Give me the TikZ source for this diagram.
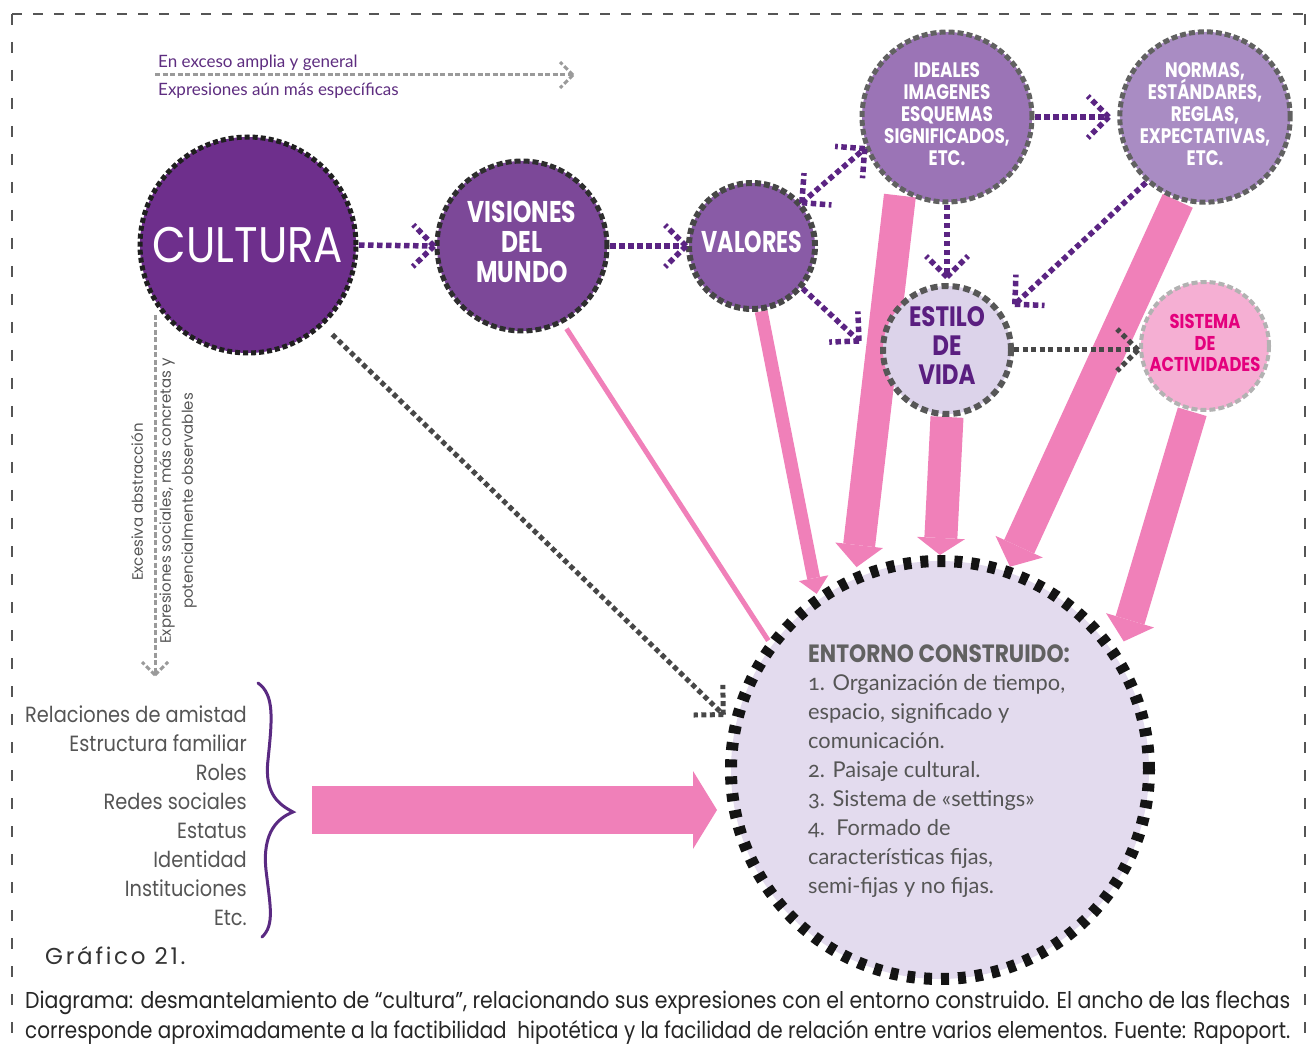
\documentclass[tikz,border=0pt]{standalone}
\usepackage{fontspec}
\usepackage{graphicx}
\usetikzlibrary{arrows.meta,decorations.markings,calc}
\setmainfont{Lato}
\newfontfamily\geo{Poppins}
\newfontfamily\geosp{Poppins}[LetterSpace=12]
\newfontfamily\lato{Lato}[Numbers=OldStyle]

\definecolor{cultfill}{HTML}{6E2F8C}
\definecolor{visfill}{HTML}{7C4898}
\definecolor{valfill}{HTML}{895BA6}
\definecolor{idefill}{HTML}{9B74B6}
\definecolor{norfill}{HTML}{A98CC3}
\definecolor{estfill}{HTML}{DCD3EA}
\definecolor{sisfill}{HTML}{F5AFD3}
\definecolor{entfill}{HTML}{E3DBEE}
\definecolor{pinkflow}{HTML}{F080B9}
\definecolor{dotpurple}{HTML}{5B2483}
\definecolor{dotgray}{HTML}{474747}
\definecolor{lightgray}{HTML}{9A9A9A}
\definecolor{textgray}{HTML}{555555}
\definecolor{legendpurple}{HTML}{5E2D80}
\definecolor{estpurple}{HTML}{5A1E80}
\definecolor{magentatext}{HTML}{E4007D}
\definecolor{bracepurple}{HTML}{5A2A82}
\definecolor{framegray}{HTML}{555555}

% horizontally condensed block of centred / aligned lines
\newcommand{\squeeze}[3]{\scalebox{#1}[1]{\begin{tabular}{@{}#2@{}}#3\end{tabular}}}

\pgfdeclarelayer{flows}
\pgfsetlayers{flows,main}

\tikzset{
  circ/.style={circle, inner sep=0pt, outer sep=3pt, minimum size=#1},
  pdots/.style={draw=dotpurple, line width=5.5pt, dash pattern=on 5.5pt off 3.5pt},
  gdots/.style={draw=dotgray, line width=5pt, dash pattern=on 5pt off 3.5pt},
  ldash/.style={draw=lightgray, line width=3pt, dash pattern=on 5pt off 2.5pt},
  head/.style 2 args={postaction={decorate, decoration={markings,
      mark=at position 1 with {\draw[#1] (0,0) -- (-#2,#2) (0,0) -- (-#2,-#2);}}}},
  tail/.style 2 args={postaction={decorate, decoration={markings,
      mark=at position 0 with {\draw[#1] (0,0) -- (#2,#2) (0,0) -- (#2,-#2);}}}},
  flow/.style n args={3}{draw=pinkflow, line width=#1,
      -{Triangle[width=#2, length=#3, line width=0pt]}},
}

\begin{document}
\begin{tikzpicture}[x=1pt, y=-1pt]
\useasboundingbox (0,0) rectangle (1310,1048);
\begin{pgfonlayer}{flows}
\fill[white] (0,0) rectangle (1310,1048);
\end{pgfonlayer}

% outer dashed frame
\draw[framegray, line width=2.5pt, dash pattern=on 10pt off 11pt] (12,14) -- (1305,14);
\draw[framegray, line width=2.5pt, dash pattern=on 11pt off 17pt] (12,14) -- (12,1048);
\draw[framegray, line width=2.5pt, dash pattern=on 11pt off 17pt] (1305,14) -- (1305,1040);

% concept circles
\node[circ=216pt, fill=cultfill, draw=black!88, line width=5pt, dash pattern=on 5pt off 3pt,
      text=white, font=\geo\fontsize{50}{50}\selectfont] (cult) at (248,245)
      {\scalebox{0.87}[1]{CULTURA}};
\node[circ=170pt, fill=visfill, draw=black!82, line width=5pt, dash pattern=on 6pt off 3pt,
      text=white, font=\geo\bfseries\fontsize{30}{29}\selectfont] (vis) at (522,246)
      {\squeeze{0.78}{c}{VISIONES\\DEL\\MUNDO}};
\node[circ=126pt, fill=valfill, draw=black!72, line width=6pt, dash pattern=on 6pt off 3pt,
      text=white, font=\geo\bfseries\fontsize{30}{29}\selectfont] (val) at (752,246)
      {\squeeze{0.74}{c}{VALORES}};
\node[circ=170pt, fill=idefill, draw=black!62, line width=5pt, dash pattern=on 6pt off 3pt,
      text=white, font=\geo\bfseries\fontsize{21}{22}\selectfont] (ide) at (947,117)
      {\squeeze{0.8}{c}{IDEALES\\IMAGENES\\ESQUEMAS\\SIGNIFICADOS,\\ETC.}};
\node[circ=168pt, fill=norfill, draw=black!62, line width=5pt, dash pattern=on 6pt off 3pt,
      text=white, font=\geo\bfseries\fontsize{21}{22}\selectfont] (nor) at (1205,117)
      {\squeeze{0.8}{c}{NORMAS,\\\smash{ESTÁNDARES,}\\REGLAS,\\EXPECTATIVAS,\\ETC.}};
\node[circ=128pt, fill=estfill, draw=black!66, line width=6pt, dash pattern=on 7pt off 4pt,
      text=estpurple, font=\geo\bfseries\fontsize{28}{29}\selectfont] (est) at (947,350)
      {\squeeze{0.82}{c}{ESTILO\\DE\\VIDA}};
\node[circ=128pt, fill=sisfill, draw=black!30, line width=4pt, dash pattern=on 6pt off 3pt,
      text=magentatext, font=\geo\bfseries\fontsize{20}{21.5}\selectfont] (sis) at (1205,346)
      {\squeeze{0.82}{c}{SISTEMA\\DE\\ACTIVIDADES}};
\node[circ=418pt, outer sep=6pt, fill=entfill, draw=black!92, line width=12pt,
      dash pattern=on 8pt off 9pt] (ent) at (940,770) {};

% built environment text
\node[anchor=base west, inner sep=0pt, text=black!62, font=\geo\bfseries\fontsize{25}{25}\selectfont]
      (enttitle) at (808,662) {\scalebox{0.87}[1]{ENTORNO CONSTRUIDO:}};
\node[anchor=north west, inner sep=0pt, text=textgray, font=\lato\fontsize{21.8}{29}\selectfont]
      (entlist) at (808,670)
      {\squeeze{1}{l}{1. Organización de tiempo,\\espacio, significado y\\comunicación.\\2. Paisaje cultural.\\3. Sistema de «settings»\\4.\ \ Formado de\\características fijas,\\semi-fijas y no fijas.}};

% pink flows into the built environment (behind the circles)
\begin{pgfonlayer}{flows}
\draw[draw=pinkflow, line width=5pt, shorten <=6pt] (vis.-62) -- (ent.143);
\draw[flow={13pt}{30pt}{16pt}] (val.-82) -- (ent.125);
\draw[flow={32pt}{48pt}{22pt}, shorten <=4pt, shorten >=5pt] (ide.-122) -- (ent.113);
\draw[flow={33pt}{48pt}{17pt}] (est.south) -- (ent.north);
\draw[flow={33pt}{52pt}{22pt}] (nor.-108) -- (ent.71);
\draw[flow={30pt}{50pt}{22pt}, shorten >=12pt] (sis.-101) -- (ent.33);
\coordinate (listsrc) at (312,810);
\draw[flow={48pt}{78pt}{24pt}] (listsrc) -- ($(listsrc -| ent.west)+(-8,0)$);
\end{pgfonlayer}

% dotted relations between concepts
\draw[pdots, head={pdots}{21}] (cult.east) -- (vis.west);
\draw[pdots, head={pdots}{21}] (vis.east) -- (val.west);
\draw[pdots, head={pdots}{21}, tail={pdots}{21}] (val.41) -- (ide.201);
\draw[pdots, head={pdots}{21}] (ide.east) -- ($(nor.west)+(-8,0)$);
\draw[pdots, head={pdots}{21}] (ide.south) -- ($(est.north)+(0,-6)$);
\draw[pdots, head={pdots}{21}] (nor.-132) -- ($(est.32)!15pt!(nor.-132)$);
\draw[pdots, head={pdots}{21}] (val.-40) -- ($(est.190)!30pt!(val.-40)$);
\draw[gdots, head={gdots}{21}] (est.east) -- (est.east -| sis.west);
\draw[gdots, head={gdots}{21}] ($(cult.-47)!12pt!(ent.167)$) -- ($(ent.167)!10pt!(cult.-47)$);

% legend arrows
\coordinate (legA) at (155,75);
\coordinate (legB) at (573,75);
\draw[ldash, head={ldash}{13}] (legA) -- (legB);
\node[anchor=base west, inner sep=0pt, text=legendpurple, font=\lato\fontsize{17}{17}\selectfont]
      (legtop) at (158,68) {En exceso amplia y general};
\node[anchor=base west, inner sep=0pt, text=legendpurple, font=\lato\fontsize{17}{17}\selectfont]
      (legbot) at (158,96) {Expresiones aún más específicas};

\coordinate (vA) at (155,315);
\coordinate (vB) at (155,675);
\draw[ldash, head={ldash}{13}] (vA) -- (vB);
\node[rotate=90, inner sep=0pt, text=textgray, font=\geo\fontsize{15}{15}\selectfont]
      (abs) at (137,502) {Excesiva abstracción};
\node[rotate=90, inner sep=0pt, align=center, text=textgray, font=\geo\fontsize{15}{22}\selectfont]
      (conc) at (178,501) {Expresiones sociales, más concretas y\\potencialmente observables};

% social expressions
\node[anchor=north east, inner sep=0pt, text=textgray, font=\geo\fontsize{22}{29}\selectfont]
      (social) at (247,702)
      {\squeeze{0.88}{r}{Relaciones de amistad\\Estructura familiar\\Roles\\Redes sociales\\Estatus\\Identidad\\Instituciones\\Etc.}};
\draw[bracepurple, line width=3pt, line cap=round]
  (258,683) .. controls (275,695) and (272,720) .. (268,760)
            .. controls (264,795) and (280,805) .. (293,812)
            .. controls (278,818) and (262,832) .. (266,870)
            .. controls (270,905) and (275,925) .. (262,937);

% figure number and caption
\node[anchor=base west, inner sep=0pt, text=black!80, font=\geosp\fontsize{23}{23}\selectfont]
      (fignum) at (45,964) {Gráfico 21.};
\node[anchor=base west, inner sep=0pt, text=black!85, font=\geo\fontsize{23}{23}\selectfont]
      (cap1) at (25,1008)
      {\resizebox{1265pt}{\height}{Diagrama: desmantelamiento de “cultura”, relacionando sus expresiones con el entorno construido. El ancho de las flechas}};
\node[anchor=base west, inner sep=0pt, text=black!85, font=\geo\fontsize{23}{23}\selectfont]
      (cap2) at (25,1038)
      {\resizebox{1265pt}{\height}{corresponde aproximadamente a la factibilidad\ \ hipotética y la facilidad de relación entre varios elementos. Fuente: Rapoport.}};
\end{tikzpicture}
\end{document}
